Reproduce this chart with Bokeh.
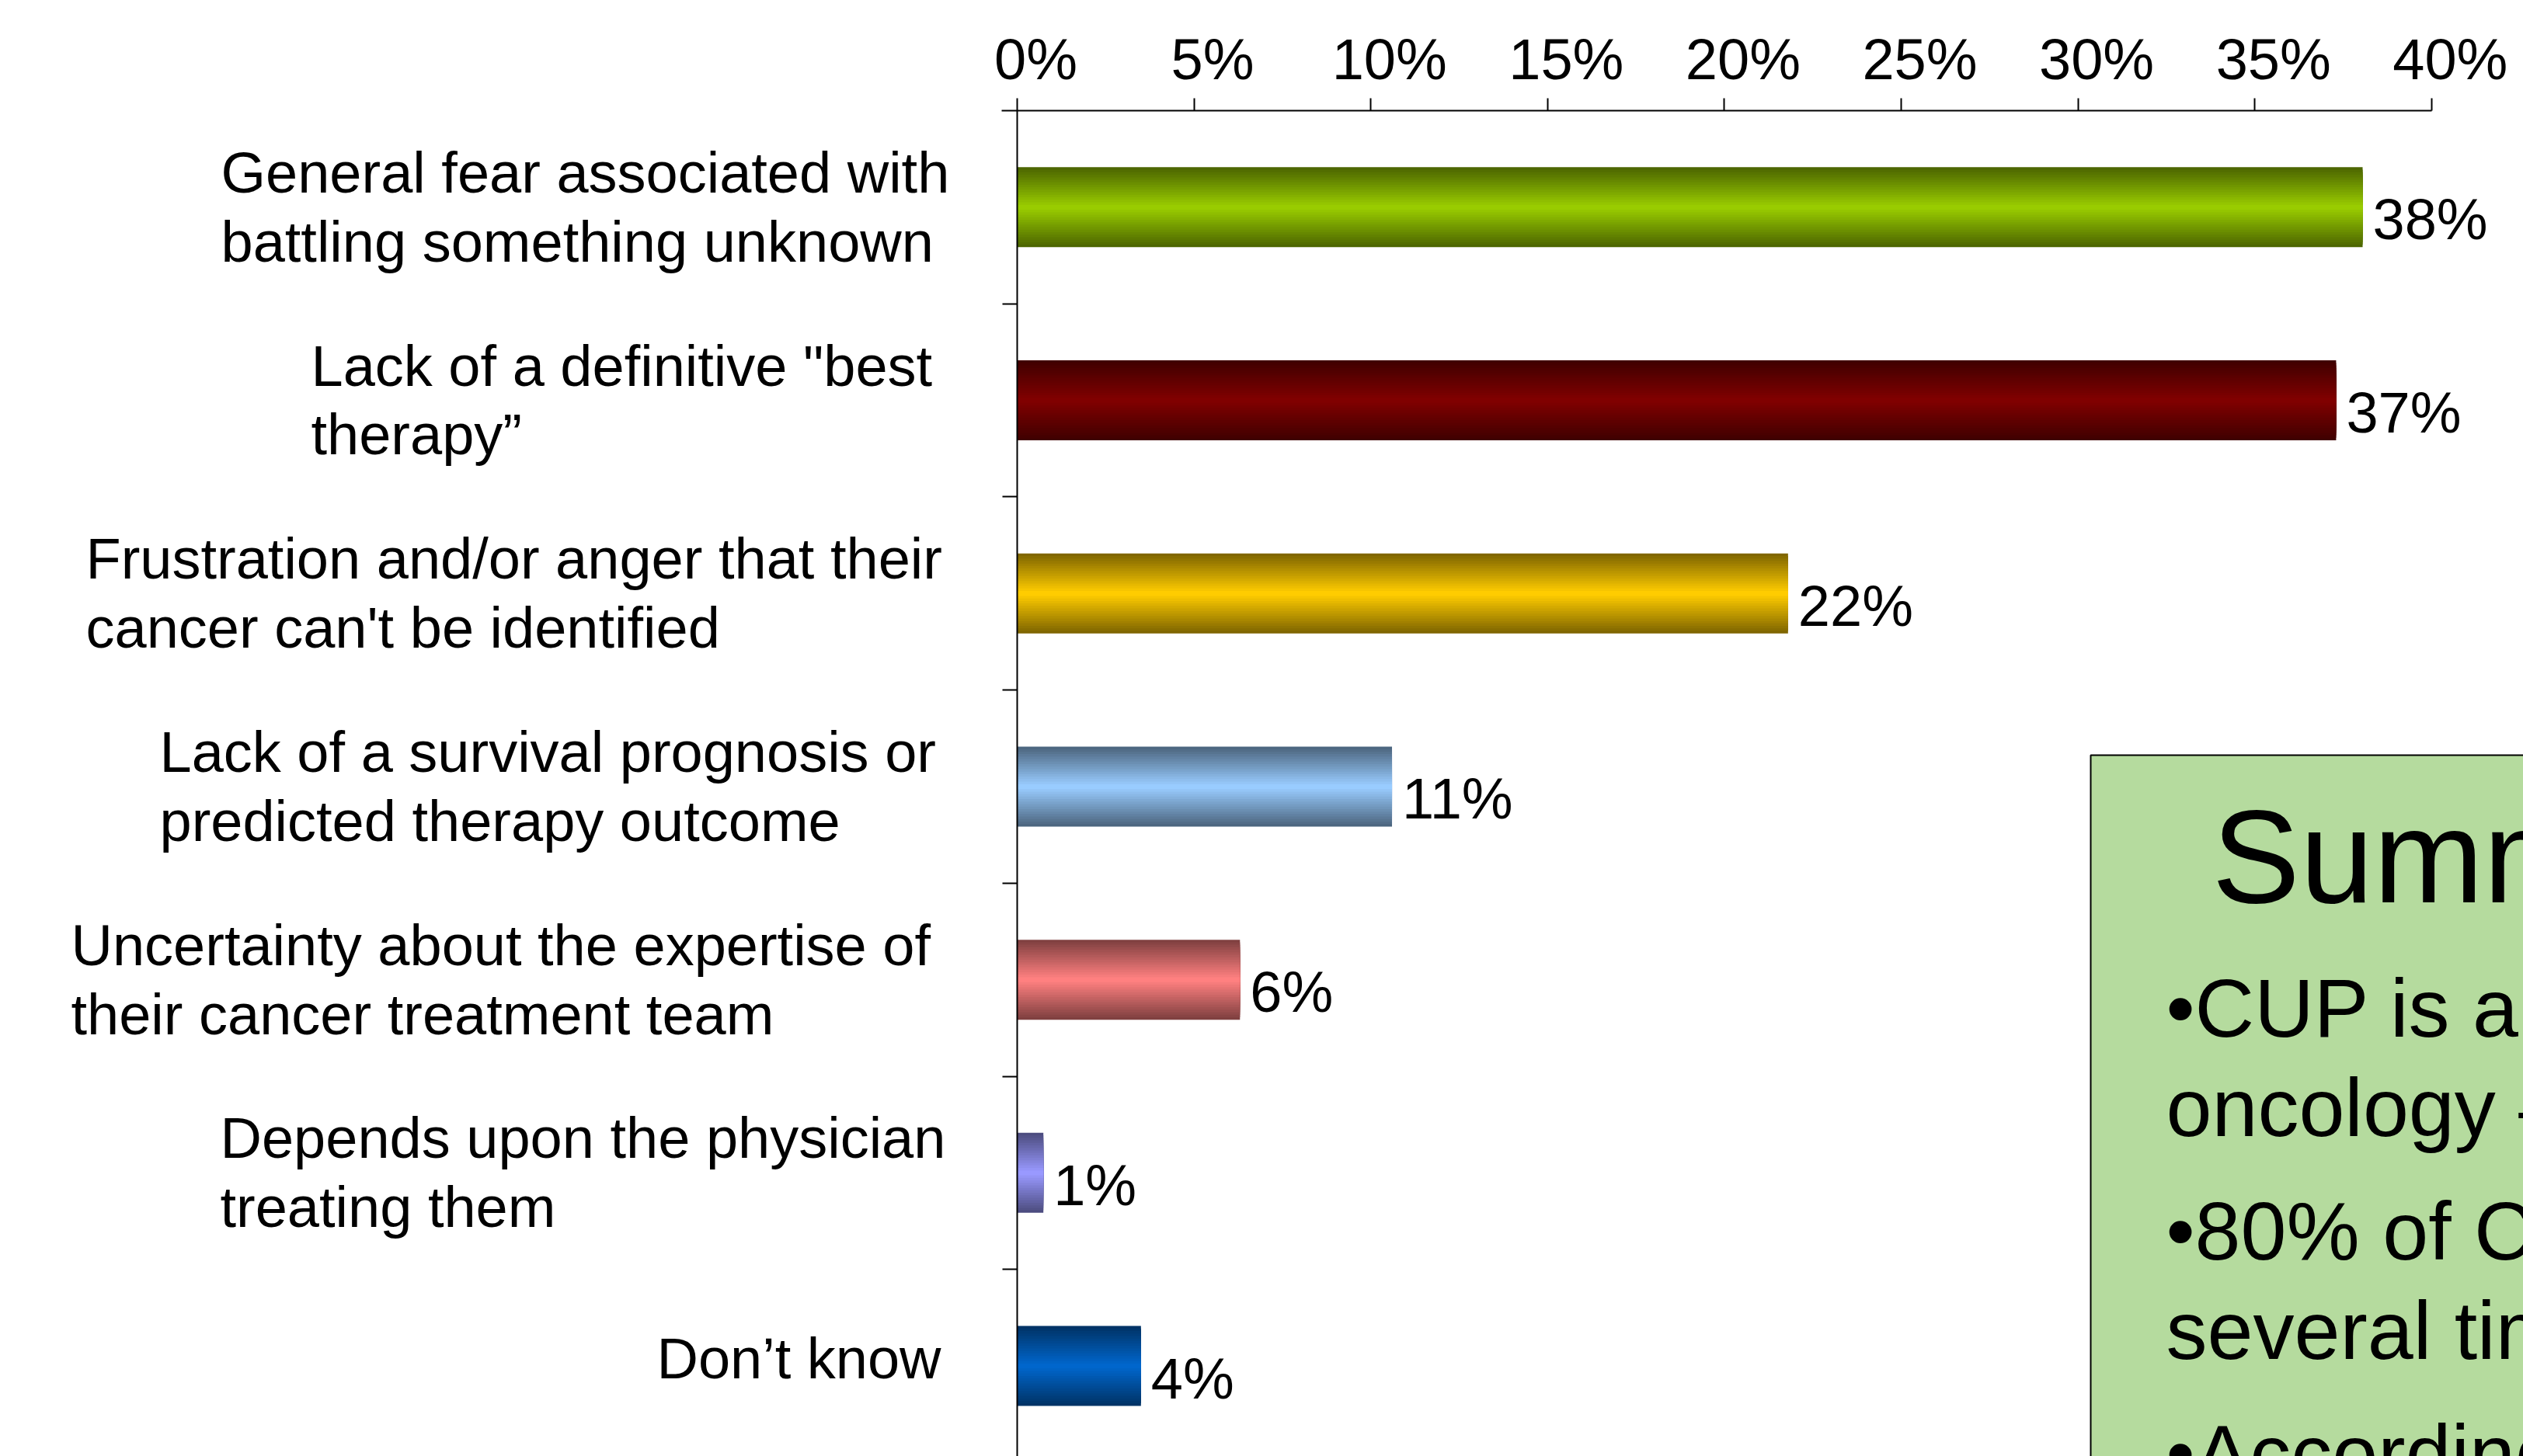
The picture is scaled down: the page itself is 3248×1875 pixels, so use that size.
from bokeh.plotting import figure
from bokeh.models import Range1d, LinearAxis, FixedTicker, ColumnDataSource
from bokeh.core.properties import value
from bokeh.embed import file_html
from bokeh.resources import INLINE

# ---------------- data ----------------
categories = [
    "General fear associated with\nbattling something unknown",
    "Lack of a definitive \"best\ntherapy\u201d",
    "Frustration and/or anger that their\ncancer can't be identified",
    "Lack of a survival prognosis or\npredicted therapy outcome",
    "Uncertainty about the expertise of\ntheir cancer treatment team",
    "Depends upon the physician\ntreating them",
    "Don\u2019t know",
]
values = [38.05, 37.3, 21.8, 10.6, 6.3, 0.74, 3.5]
value_labels = ["38%", "37%", "22%", "11%", "6%", "1%", "4%"]
bar_colors = ["#99CC00", "#800000", "#FFCC00", "#99CCFF", "#FF8080", "#9999FF", "#0066CC"]
x_ticks = [0, 5, 10, 15, 20, 25, 30, 35, 40]
x_tick_labels = ["0%", "5%", "10%", "15%", "20%", "25%", "30%", "35%", "40%"]

summary_title = "Summary"
summary_lines = ["\u2022CUP is a", "oncology \u2013", "\u202280% of CUP", "several times", "\u2022According"]

# ---------------- layout constants ----------------
W, H = 3248, 1875
FRAME_LEFT = 60
FRAME_TOP = 142
ZERO_PX = 1309
PX_PER_PCT = 45.52
BAND_PX = 248.7
BAR_H = 0.414
FONT = "Liberation Sans"
LABEL_SHIFT_PX = 24
# left edge of each category label block, in pixels relative to the zero line
CAT_LEFT_PX = [-1025, -909, -1199, -1104, -1218, -1026, -464]
CAT_DY_PX = [0, 0, 0, 0, 0, 0, -10]

x_start = -(ZERO_PX - FRAME_LEFT) / PX_PER_PCT
x_end = (W - ZERO_PX) / PX_PER_PCT
y_top = -0.5
y_bottom = -0.5 + (H - FRAME_TOP) / BAND_PX

p = figure(width=W, height=H,
           x_range=Range1d(x_start, x_end), y_range=Range1d(y_bottom, y_top),
           output_backend="svg", toolbar_location=None,
           x_axis_location=None, y_axis_location=None,
           min_border_left=FRAME_LEFT, min_border_top=FRAME_TOP,
           min_border_right=0, min_border_bottom=0)
p.outline_line_color = None
p.grid.visible = False
p.background_fill_color = "white"
p.border_fill_color = "white"

# top axis: line + ticks (labels hidden)
tick_axis = LinearAxis(ticker=FixedTicker(ticks=x_ticks, minor_ticks=[]),
                       bounds=(-20 / PX_PER_PCT, 40),
                       axis_line_width=2, axis_line_color="black",
                       major_tick_out=16, major_tick_in=0, major_tick_line_width=2,
                       minor_tick_line_color=None,
                       major_label_overrides={t: "" for t in x_ticks},
                       major_label_text_color=None,
                       major_label_text_font_size="1px", major_label_standoff=0)
p.add_layout(tick_axis, "above")

# top axis labels (slightly shifted to the right, as in the original)
shift = LABEL_SHIFT_PX / PX_PER_PCT
p.extra_x_ranges = {"labels": Range1d(x_start - shift, x_end - shift)}
label_axis = LinearAxis(x_range_name="labels",
                        ticker=FixedTicker(ticks=x_ticks, minor_ticks=[]),
                        major_label_overrides={t: s for t, s in zip(x_ticks, x_tick_labels)},
                        axis_line_color=None, major_tick_line_color=None,
                        minor_tick_line_color=None, major_tick_out=0, major_tick_in=0,
                        major_label_standoff=9,
                        major_label_text_font=FONT, major_label_text_font_size="74px",
                        major_label_text_color="black")
p.add_layout(label_axis, "above")

# vertical category axis at x = 0 with ticks between categories
idx = list(range(len(categories)))
y_axis = LinearAxis(fixed_location=0,
                    ticker=FixedTicker(ticks=idx, minor_ticks=[k + 0.5 for k in idx[:-1]]),
                    axis_line_width=2, axis_line_color="black",
                    major_tick_out=0, major_tick_in=0,
                    minor_tick_out=19, minor_tick_in=0, minor_tick_line_width=2,
                    minor_tick_line_color="black",
                    major_label_overrides={t: "" for t in idx},
                    major_label_text_color=None,
                    major_label_text_font_size="1px")
p.add_layout(y_axis, "left")


def shade(hex_color, f):
    r, g, b = (int(hex_color[i:i + 2], 16) for i in (1, 3, 5))
    return "#%02x%02x%02x" % (round(r * f), round(g * f), round(b * f))


# gradient bars: stacked layers, dark at the edges, bright in the middle
N = 16
for i in range(N):
    frac = 1 - i / N
    f = 0.5 + 0.5 * i / (N - 1)
    src = ColumnDataSource(dict(y=idx, right=values,
                                color=[shade(c, f) for c in bar_colors]))
    p.hbar(y="y", left=0, right="right", height=BAR_H * frac, source=src,
           fill_color="color", line_color=None)

# value labels
p.text(x=values, y=idx, text=value_labels, x_offset=13, y_offset=16,
       text_align="left", text_baseline="alphabetic",
       text_font=value(FONT), text_font_size="74px", text_color="black")

# category labels (lines left-aligned inside each block)
p.text(x=[0] * len(categories), y=idx, text=categories,
       x_offset=CAT_LEFT_PX, y_offset=CAT_DY_PX,
       text_align="left", text_baseline="middle", text_line_height=1.07,
       text_font=value(FONT), text_font_size="74px", text_color="black")

# summary box (cut off by the page edge)
BOX_LEFT = (2691 - ZERO_PX) / PX_PER_PCT
BOX_TOP = (972 - FRAME_TOP) / BAND_PX - 0.5
p.quad(left=[BOX_LEFT], right=[x_end + 10], top=[BOX_TOP], bottom=[y_bottom + 3],
       fill_color="#B5DB9E", line_color="black", line_width=2)
p.text(x=[BOX_LEFT], y=[BOX_TOP], text=[summary_title], x_offset=156, y_offset=130,
       text_align="left", text_baseline="alphabetic",
       text_font=value(FONT), text_font_size="170px", text_color="black")
p.text(x=[BOX_LEFT] * len(summary_lines), y=[BOX_TOP] * len(summary_lines),
       text=summary_lines, x_offset=97, y_offset=[325, 453, 612, 740, 899],
       text_align="left", text_baseline="alphabetic",
       text_font=value(FONT), text_font_size="106px", text_color="black")

open("out.html", "w").write(file_html(p, INLINE))
